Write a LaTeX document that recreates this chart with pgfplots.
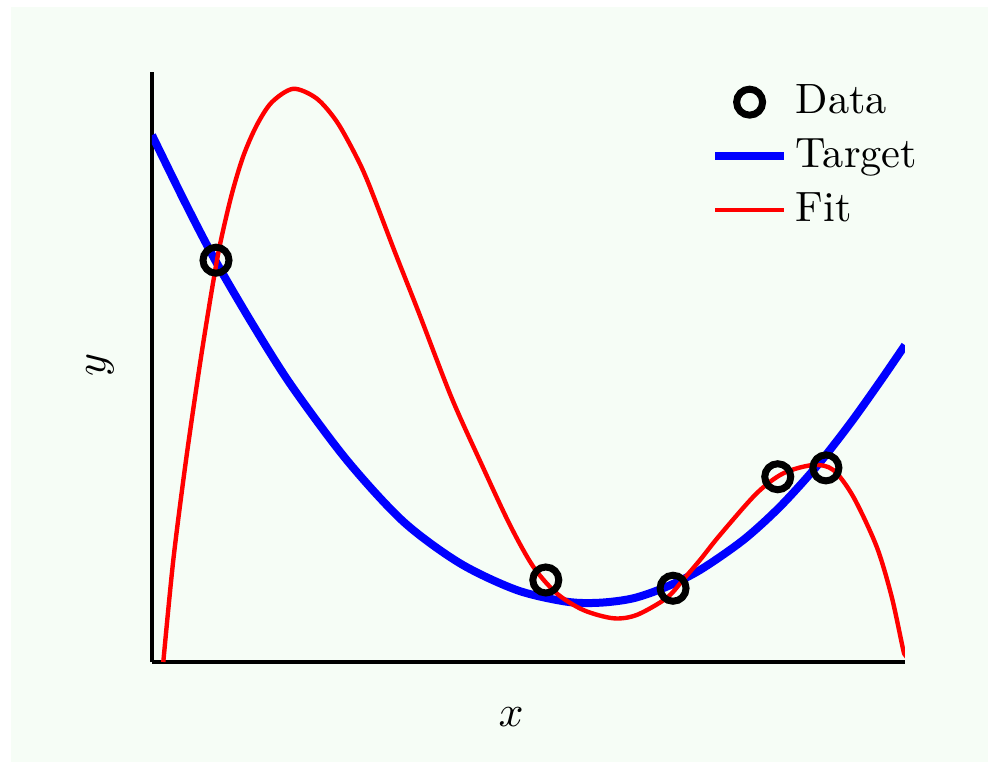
\documentclass[border=0pt]{standalone}
\usepackage{pgfplots}
\pgfplotsset{compat=1.18}
\definecolor{bgc}{HTML}{F6FDF6}
\begin{document}
\begin{tikzpicture}
\fill[white] (-38pt,-25pt) rectangle (209pt,165.5pt);
\fill[bgc] (-35.25pt,-25pt) rectangle (209pt,163.75pt);
\begin{axis}[
  scale only axis, width=188.25pt, height=147.5pt,
  xmin=0, xmax=1, ymin=0, ymax=1,
  axis x line=bottom, axis y line=left,
  axis line style={line width=1pt, -},
  xtick=\empty, ytick=\empty,
  xlabel={$x$}, ylabel={$y$},
  label style={font=\fontsize{11}{13}\selectfont},
  xlabel style={at={([yshift=-13.8pt]axis description cs:0.477,0)}, anchor=center},
  ylabel style={at={([xshift=-13pt]axis description cs:0,0.503)}, anchor=center},
  legend style={draw=none, fill=none, at={(axis description cs:0.726,1.007)}, anchor=north west,
    font=\fontsize{10.6}{12.5}\selectfont, row sep=0.8pt},
  legend cell align=left,
]
\addplot[only marks, mark=o, mark size=3.25pt, line width=1.75pt, black] coordinates {
(0.085,0.681) (0.523,0.139) (0.692,0.125) (0.831,0.314) (0.895,0.329)};
\addlegendentry{Data}
\addplot[smooth, blue, line width=2pt] coordinates {
(0,0.893) (0.0438,0.7792) (0.0837,0.6814) (0.1345,0.5705) (0.1855,0.4678)
(0.2586,0.3424) (0.3337,0.2381) (0.4090,0.1673) (0.4843,0.1220) (0.5507,0.1022)
(0.5950,0.1005) (0.6392,0.1080) (0.6835,0.1276) (0.7278,0.1559)
(0.7853,0.2068) (0.8340,0.2632) (0.8827,0.3317) (0.9270,0.4039) (0.9668,0.4751) (1,0.537)};
\addlegendentry{Target}
\addplot[smooth, red, line width=1.1pt] coordinates {
(0.0150,0.0) (0.0283,0.1729) (0.0452,0.3424) (0.0637,0.5051) (0.0793,0.6292)
(0.0903,0.7075) (0.1058,0.7922) (0.1212,0.8573) (0.1390,0.9095) (0.1590,0.9486)
(0.1876,0.9715) (0.2187,0.9551) (0.2453,0.9161) (0.2696,0.8610) (0.2873,0.8119)
(0.3227,0.6944) (0.3537,0.5941) (0.3980,0.4475) (0.4378,0.3347) (0.4754,0.2322)
(0.5064,0.1615) (0.5374,0.1164) (0.5728,0.0881) (0.6126,0.0741) (0.6437,0.0797)
(0.6835,0.1085) (0.7056,0.1398) (0.7278,0.1729) (0.7543,0.2153) (0.8030,0.2859)
(0.8384,0.3198) (0.8782,0.3339) (0.9048,0.3254) (0.9313,0.2802) (0.9624,0.1954)
(0.9823,0.1107) (0.9977,0.0203) (1,0.015)};
\addlegendentry{Fit}
\end{axis}
\end{tikzpicture}
\end{document}
